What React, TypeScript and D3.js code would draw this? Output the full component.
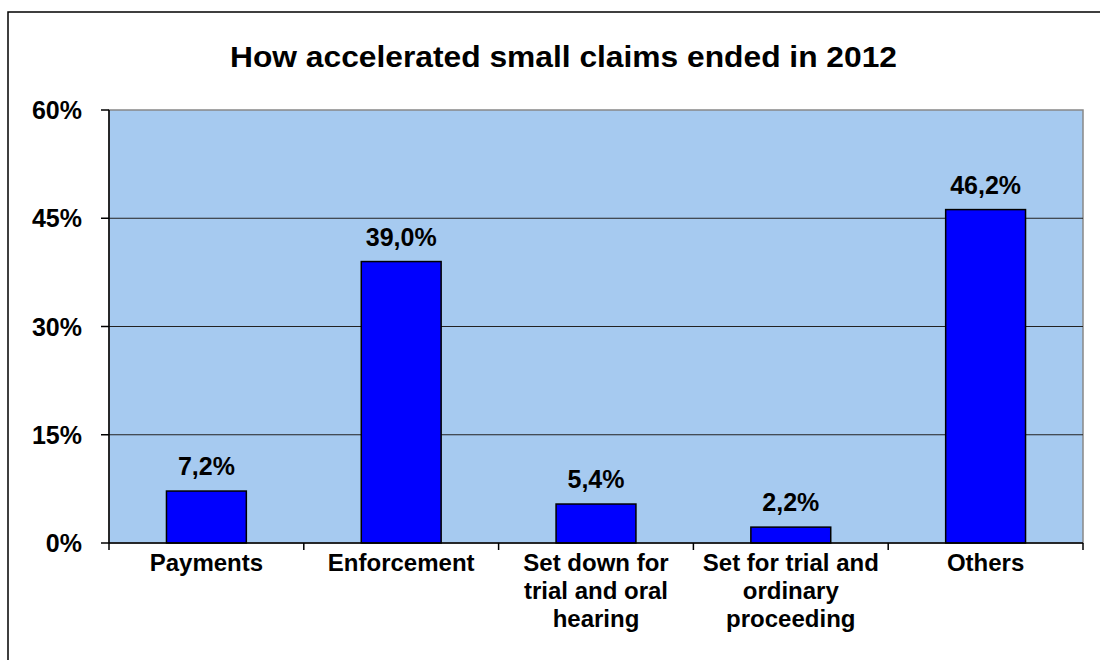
import React from "react";
import * as d3 from "d3";

const categories: string[][] = [
  ["Payments"],
  ["Enforcement"],
  ["Set down for", "trial and oral", "hearing"],
  ["Set for trial and", "ordinary", "proceeding"],
  ["Others"],
];
const values: number[] = [7.2, 39.0, 5.4, 2.2, 46.2];
const yTicks: number[] = [0, 15, 30, 45, 60];
const title = "How accelerated small claims ended in 2012";

const W = 1100;
const H = 660;
const M = { left: 109, right: 1083, top: 110, bottom: 543 };
const FONT = "'Liberation Sans', Arial, sans-serif";

export default function App() {
  const keys = categories.map((_, i) => String(i));
  const x = d3.scaleBand<string>().domain(keys).range([M.left, M.right]).paddingInner(0).paddingOuter(0);
  const y = d3.scaleLinear().domain([0, 60]).range([M.bottom, M.top]);
  const bw = x.bandwidth() * 0.41;
  const fmt = (v: number) => v.toFixed(1).replace(".", ",") + "%";

  return (
    <div style={{ position: "absolute", left: 0, top: 0 }}>
      <svg width={W} height={H} style={{ display: "block", background: "#fff" }}>
        <rect x={8} y={12} width={1200} height={1000} fill="none" stroke="#000" strokeWidth={1.5} />
        <text x={230} y={66.5} textLength={667} lengthAdjust="spacingAndGlyphs" fontFamily={FONT} fontWeight="bold" fontSize={30} fill="#000">
          {title}
        </text>
        <rect x={M.left} y={M.top} width={M.right - M.left} height={M.bottom - M.top} fill="#A6CAF0" stroke="#888" strokeWidth={1.5} />
        {yTicks.filter((t) => t > 0 && t < 60).map((t) => (
          <line key={t} x1={M.left} x2={M.right} y1={y(t)} y2={y(t)} stroke="#222" strokeWidth={1} />
        ))}
        {values.map((v, i) => {
          const cx = (x(String(i)) as number) + x.bandwidth() / 2;
          return (
            <g key={i}>
              <rect x={cx - bw / 2} y={y(v)} width={bw} height={y(0) - y(v)} fill="#0000FF" stroke="#000" strokeWidth={1.5} />
              <text x={cx} y={y(v) - 16} textAnchor="middle" fontFamily={FONT} fontWeight="bold" fontSize={25} fill="#000">
                {fmt(v)}
              </text>
            </g>
          );
        })}
        {/* y axis */}
        <line x1={M.left} x2={M.left} y1={M.top} y2={M.bottom} stroke="#000" strokeWidth={1.5} />
        {yTicks.map((t) => (
          <g key={t}>
            <line x1={M.left - 8} x2={M.left} y1={y(t)} y2={y(t)} stroke="#000" strokeWidth={1.5} />
            <text x={82} y={y(t)} dy="0.36em" textAnchor="end" fontFamily={FONT} fontWeight="bold" fontSize={25} fill="#000">
              {t}%
            </text>
          </g>
        ))}
        {/* x axis */}
        <line x1={M.left} x2={M.right} y1={M.bottom} y2={M.bottom} stroke="#000" strokeWidth={1.5} />
        {[...keys.map((k) => x(k) as number), M.right].map((px, i) => (
          <line key={i} x1={px} x2={px} y1={M.bottom} y2={M.bottom + 7} stroke="#000" strokeWidth={1.5} />
        ))}
        {categories.map((lines, i) => {
          const cx = (x(String(i)) as number) + x.bandwidth() / 2;
          return (
            <text key={i} textAnchor="middle" fontFamily={FONT} fontWeight="bold" fontSize={24} fill="#000">
              {lines.map((l, j) => (
                <tspan key={j} x={cx} y={571 + j * 28}>
                  {l}
                </tspan>
              ))}
            </text>
          );
        })}
      </svg>
    </div>
  );
}
